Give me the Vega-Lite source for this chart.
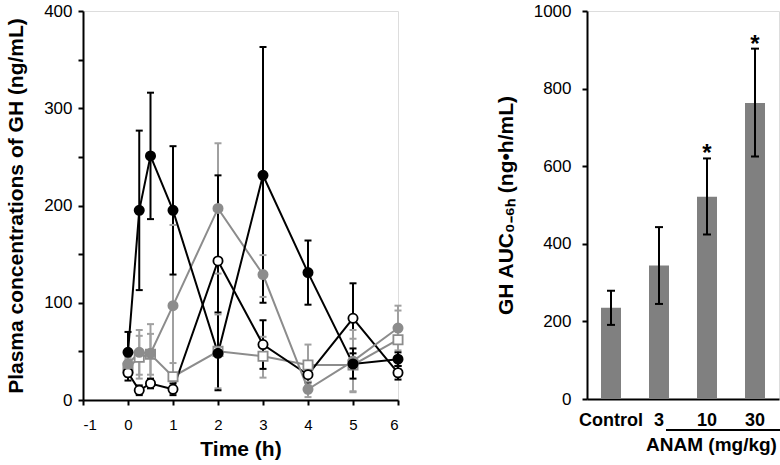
{
  "$schema": "https://vega.github.io/schema/vega-lite/v6.json",
  "padding": {"left": 5, "top": 1, "right": 0, "bottom": 0},
  "bounds": "flush",
  "spacing": 189,
  "hconcat": [
    {
      "width": 315,
      "height": 389,
      "data": {"values": [
        {"group": "Control", "time": 0, "mean": 33, "lo": 24, "hi": 42},
        {"group": "Control", "time": 0.25, "mean": 44, "lo": 22, "hi": 66},
        {"group": "Control", "time": 0.5, "mean": 47, "lo": 26, "hi": 68},
        {"group": "Control", "time": 1, "mean": 24, "lo": 10, "hi": 38},
        {"group": "Control", "time": 2, "mean": 50, "lo": 12, "hi": 88},
        {"group": "Control", "time": 3, "mean": 45, "lo": 23, "hi": 65},
        {"group": "Control", "time": 4, "mean": 36, "lo": 15, "hi": 57},
        {"group": "Control", "time": 5, "mean": 36, "lo": 9, "hi": 63},
        {"group": "Control", "time": 6, "mean": 62, "lo": 32, "hi": 92},
        {"group": "ANAM 3 mg/kg", "time": 0, "mean": 28, "lo": 20, "hi": 36},
        {"group": "ANAM 3 mg/kg", "time": 0.25, "mean": 10, "lo": 5, "hi": 15},
        {"group": "ANAM 3 mg/kg", "time": 0.5, "mean": 17, "lo": 12, "hi": 22},
        {"group": "ANAM 3 mg/kg", "time": 1, "mean": 11, "lo": 5, "hi": 17},
        {"group": "ANAM 3 mg/kg", "time": 2, "mean": 143, "lo": 90, "hi": 196},
        {"group": "ANAM 3 mg/kg", "time": 3, "mean": 57, "lo": 32, "hi": 82},
        {"group": "ANAM 3 mg/kg", "time": 4, "mean": 26, "lo": 18, "hi": 34},
        {"group": "ANAM 3 mg/kg", "time": 5, "mean": 84, "lo": 48, "hi": 120},
        {"group": "ANAM 3 mg/kg", "time": 6, "mean": 28, "lo": 21, "hi": 35},
        {"group": "ANAM 10 mg/kg", "time": 0, "mean": 37, "lo": 30, "hi": 44},
        {"group": "ANAM 10 mg/kg", "time": 0.25, "mean": 49, "lo": 26, "hi": 72},
        {"group": "ANAM 10 mg/kg", "time": 0.5, "mean": 48, "lo": 18, "hi": 78},
        {"group": "ANAM 10 mg/kg", "time": 1, "mean": 97, "lo": 14, "hi": 180},
        {"group": "ANAM 10 mg/kg", "time": 2, "mean": 197, "lo": 130, "hi": 264},
        {"group": "ANAM 10 mg/kg", "time": 3, "mean": 129, "lo": 106, "hi": 149},
        {"group": "ANAM 10 mg/kg", "time": 4, "mean": 11, "lo": 3, "hi": 19},
        {"group": "ANAM 10 mg/kg", "time": 5, "mean": 40, "lo": 8, "hi": 72},
        {"group": "ANAM 10 mg/kg", "time": 6, "mean": 74, "lo": 51, "hi": 97},
        {"group": "ANAM 30 mg/kg", "time": 0, "mean": 49, "lo": 28, "hi": 70},
        {"group": "ANAM 30 mg/kg", "time": 0.25, "mean": 195, "lo": 113, "hi": 277},
        {"group": "ANAM 30 mg/kg", "time": 0.5, "mean": 251, "lo": 186, "hi": 316},
        {"group": "ANAM 30 mg/kg", "time": 1, "mean": 195, "lo": 129, "hi": 261},
        {"group": "ANAM 30 mg/kg", "time": 2, "mean": 48, "lo": 10, "hi": 231},
        {"group": "ANAM 30 mg/kg", "time": 3, "mean": 231, "lo": 100, "hi": 363},
        {"group": "ANAM 30 mg/kg", "time": 4, "mean": 131, "lo": 98, "hi": 164},
        {"group": "ANAM 30 mg/kg", "time": 5, "mean": 37, "lo": 22, "hi": 53},
        {"group": "ANAM 30 mg/kg", "time": 6, "mean": 42, "lo": 35, "hi": 49}
      ]},
      "encoding": {
        "x": {"field": "time", "type": "quantitative", "scale": {"domain": [-1, 6], "nice": false},
              "axis": {"values": [-1, 0, 1, 2, 3, 4, 5, 6], "labelOverlap": false, "labelExpr": "datum.value < 0 ? '-' + abs(datum.value) : datum.label", "title": "Time (h)", "titleFontSize": 21, "titleFont": "Liberation Sans", "titleFontWeight": "bold", "titleColor": "black", "labelFont": "Liberation Sans", "labelColor": "black", "labelFontSize": 15, "tickSize": 5, "labelPadding": 12, "titlePadding": 6, "grid": false, "domainColor": "black", "domainWidth": 2, "tickColor": "black", "tickWidth": 2}}
      },
      "layer": [
        {
          "mark": {"type": "rule", "strokeWidth": 2},
          "encoding": {
            "y": {"field": "lo", "type": "quantitative", "scale": {"domain": [0, 400]},
                  "axis": {"values": [0, 50, 100, 150, 200, 250, 300, 350, 400], "labelOverlap": false, "labelExpr": "datum.value % 100 === 0 ? datum.label : ''", "title": "Plasma concentrations of GH (ng/mL)", "titleFontSize": 21, "titleFont": "Liberation Sans", "titleFontWeight": "bold", "titleColor": "black", "labelFont": "Liberation Sans", "labelColor": "black", "labelFontSize": 17, "tickSize": 5, "labelPadding": 6, "titlePadding": 17, "grid": false, "domainColor": "black", "domainWidth": 2, "tickColor": "black", "tickWidth": 2}},
            "y2": {"field": "hi"},
            "color": {"field": "group", "type": "nominal", "legend": null,
                      "scale": {"domain": ["Control", "ANAM 3 mg/kg", "ANAM 10 mg/kg", "ANAM 30 mg/kg"], "range": ["#a0a0a0", "#000000", "#a0a0a0", "#000000"]}}
          }
        },
        {
          "mark": {"type": "tick", "orient": "horizontal", "size": 7, "thickness": 2, "opacity": 1},
          "encoding": {
            "y": {"field": "lo", "type": "quantitative",
                  "axis": {"values": [0, 50, 100, 150, 200, 250, 300, 350, 400], "labelOverlap": false, "labelExpr": "datum.value % 100 === 0 ? datum.label : ''", "title": "Plasma concentrations of GH (ng/mL)", "titleFontSize": 21, "titleFont": "Liberation Sans", "titleFontWeight": "bold", "titleColor": "black", "labelFont": "Liberation Sans", "labelColor": "black", "labelFontSize": 17, "tickSize": 5, "labelPadding": 6, "titlePadding": 17, "grid": false, "domainColor": "black", "domainWidth": 2, "tickColor": "black", "tickWidth": 2}},
            "color": {"field": "group", "type": "nominal", "legend": null}
          }
        },
        {
          "mark": {"type": "tick", "orient": "horizontal", "size": 7, "thickness": 2, "opacity": 1},
          "encoding": {
            "y": {"field": "hi", "type": "quantitative",
                  "axis": {"values": [0, 50, 100, 150, 200, 250, 300, 350, 400], "labelOverlap": false, "labelExpr": "datum.value % 100 === 0 ? datum.label : ''", "title": "Plasma concentrations of GH (ng/mL)", "titleFontSize": 21, "titleFont": "Liberation Sans", "titleFontWeight": "bold", "titleColor": "black", "labelFont": "Liberation Sans", "labelColor": "black", "labelFontSize": 17, "tickSize": 5, "labelPadding": 6, "titlePadding": 17, "grid": false, "domainColor": "black", "domainWidth": 2, "tickColor": "black", "tickWidth": 2}},
            "color": {"field": "group", "type": "nominal", "legend": null}
          }
        },
        {
          "mark": {"type": "line", "strokeWidth": 2},
          "encoding": {
            "y": {"field": "mean", "type": "quantitative",
                  "axis": {"values": [0, 50, 100, 150, 200, 250, 300, 350, 400], "labelOverlap": false, "labelExpr": "datum.value % 100 === 0 ? datum.label : ''", "title": "Plasma concentrations of GH (ng/mL)", "titleFontSize": 21, "titleFont": "Liberation Sans", "titleFontWeight": "bold", "titleColor": "black", "labelFont": "Liberation Sans", "labelColor": "black", "labelFontSize": 17, "tickSize": 5, "labelPadding": 6, "titlePadding": 17, "grid": false, "domainColor": "black", "domainWidth": 2, "tickColor": "black", "tickWidth": 2}},
            "stroke": {"field": "group", "type": "nominal",
                       "scale": {"domain": ["Control", "ANAM 3 mg/kg", "ANAM 10 mg/kg", "ANAM 30 mg/kg"], "range": ["#8c8c8c", "#000000", "#8c8c8c", "#000000"]},
                       "legend": {"title": null, "orient": "none", "legendX": 218, "legendY": 4, "labelFontSize": 14, "labelFontWeight": "bold", "labelColor": "black", "labelFont": "Liberation Sans", "symbolSize": 324, "symbolStrokeWidth": 2, "labelOffset": 10, "rowPadding": 0,
                                  "encode": {"symbols": {"update": {"shape": {"signal": "datum.value === 'Control' ? 'M-1.5,0H-0.5M-0.5,-0.5H0.5V0.5H-0.5ZM0.5,0H1.5' : 'M-1.5,0H-0.55M0.55,0A0.55,0.55,0,1,1,-0.55,0A0.55,0.55,0,1,1,0.55,0ZM0.55,0H1.5'"}}}}}}
          }
        },
        {
          "mark": {"type": "point", "size": 85, "strokeWidth": 1.8, "opacity": 1, "fillOpacity": 1},
          "encoding": {
            "y": {"field": "mean", "type": "quantitative",
                  "axis": {"values": [0, 50, 100, 150, 200, 250, 300, 350, 400], "labelOverlap": false, "labelExpr": "datum.value % 100 === 0 ? datum.label : ''", "title": "Plasma concentrations of GH (ng/mL)", "titleFontSize": 21, "titleFont": "Liberation Sans", "titleFontWeight": "bold", "titleColor": "black", "labelFont": "Liberation Sans", "labelColor": "black", "labelFontSize": 17, "tickSize": 5, "labelPadding": 6, "titlePadding": 17, "grid": false, "domainColor": "black", "domainWidth": 2, "tickColor": "black", "tickWidth": 2}},
            "stroke": {"field": "group", "type": "nominal",
                       "legend": {"title": null, "orient": "none", "legendX": 218, "legendY": 4, "labelFontSize": 14, "labelFontWeight": "bold", "labelColor": "black", "labelFont": "Liberation Sans", "symbolSize": 324, "symbolStrokeWidth": 2, "labelOffset": 10, "rowPadding": 0,
                                  "encode": {"symbols": {"update": {"shape": {"signal": "datum.value === 'Control' ? 'M-1.5,0H-0.5M-0.5,-0.5H0.5V0.5H-0.5ZM0.5,0H1.5' : 'M-1.5,0H-0.55M0.55,0A0.55,0.55,0,1,1,-0.55,0A0.55,0.55,0,1,1,0.55,0ZM0.55,0H1.5'"}}}}}},
            "fill": {"field": "group", "type": "nominal",
                     "scale": {"domain": ["Control", "ANAM 3 mg/kg", "ANAM 10 mg/kg", "ANAM 30 mg/kg"], "range": ["#ffffff", "#ffffff", "#8c8c8c", "#000000"]},
                     "legend": {"title": null, "orient": "none", "legendX": 218, "legendY": 4, "labelFontSize": 14, "labelFontWeight": "bold", "labelColor": "black", "labelFont": "Liberation Sans", "symbolSize": 324, "symbolStrokeWidth": 2, "labelOffset": 10, "rowPadding": 0,
                                "encode": {"symbols": {"update": {"shape": {"signal": "datum.value === 'Control' ? 'M-1.5,0H-0.5M-0.5,-0.5H0.5V0.5H-0.5ZM0.5,0H1.5' : 'M-1.5,0H-0.55M0.55,0A0.55,0.55,0,1,1,-0.55,0A0.55,0.55,0,1,1,0.55,0ZM0.55,0H1.5'"}}}}}},
            "shape": {"field": "group", "type": "nominal",
                      "scale": {"domain": ["Control", "ANAM 3 mg/kg", "ANAM 10 mg/kg", "ANAM 30 mg/kg"], "range": ["square", "circle", "circle", "circle"]},
                      "legend": {"title": null, "orient": "none", "legendX": 218, "legendY": 4, "labelFontSize": 14, "labelFontWeight": "bold", "labelColor": "black", "labelFont": "Liberation Sans", "symbolSize": 324, "symbolStrokeWidth": 2, "labelOffset": 10, "rowPadding": 0,
                                 "encode": {"symbols": {"update": {"shape": {"signal": "datum.value === 'Control' ? 'M-1.5,0H-0.5M-0.5,-0.5H0.5V0.5H-0.5ZM0.5,0H1.5' : 'M-1.5,0H-0.55M0.55,0A0.55,0.55,0,1,1,-0.55,0A0.55,0.55,0,1,1,0.55,0ZM0.55,0H1.5'"}}}}}}
          }
        }
      ]
    },
    {
      "width": 192,
      "height": 388,
      "data": {"values": [
        {"group": "Control", "auc": 235, "lo": 191, "hi": 279, "sig": ""},
        {"group": "3", "auc": 344, "lo": 245, "hi": 443, "sig": ""},
        {"group": "10", "auc": 521, "lo": 424, "hi": 620, "sig": "*"},
        {"group": "30", "auc": 763, "lo": 625, "hi": 903, "sig": "*"}
      ]},
      "encoding": {
        "x": {"field": "group", "type": "nominal", "sort": null, "scale": {"domain": ["Control", "3", "10", "30"]},
              "axis": {"title": "ANAM (mg/kg)", "titleX": 124, "titleFontSize": 19, "titleFont": "Liberation Sans", "titleFontWeight": "bold", "titleColor": "black", "titlePadding": 6, "labelFont": "Liberation Sans", "labelColor": "black", "labelFontSize": 18, "labelFontWeight": "bold", "labelAngle": 0, "ticks": false, "labelPadding": 12, "grid": false, "domainColor": "black", "domainWidth": 2}}
      },
      "layer": [
        {
          "mark": {"type": "bar", "color": "#808080", "size": 20},
          "encoding": {
            "y": {"field": "auc", "type": "quantitative", "scale": {"domain": [0, 1000]},
                  "axis": {"values": [0, 100, 200, 300, 400, 500, 600, 700, 800, 900, 1000], "labelOverlap": false, "format": "d", "title": "GH AUC₀₋₆ₕ (ng•h/mL)", "titleFontSize": 21, "titleFont": "Liberation Sans", "titleFontWeight": "bold", "titleColor": "black", "labelFont": "Liberation Sans", "labelColor": "black", "labelFontSize": 17, "tickSize": 5, "labelPadding": 11, "titlePadding": 17, "grid": false, "domainColor": "black", "domainWidth": 2, "tickColor": "black", "tickWidth": 2}}
          }
        },
        {
          "mark": {"type": "rule", "strokeWidth": 2, "color": "black"},
          "encoding": {
            "y": {"field": "lo", "type": "quantitative",
                  "axis": {"values": [0, 100, 200, 300, 400, 500, 600, 700, 800, 900, 1000], "labelOverlap": false, "format": "d", "title": "GH AUC₀₋₆ₕ (ng•h/mL)", "titleFontSize": 21, "titleFont": "Liberation Sans", "titleFontWeight": "bold", "titleColor": "black", "labelFont": "Liberation Sans", "labelColor": "black", "labelFontSize": 17, "tickSize": 5, "labelPadding": 11, "titlePadding": 17, "grid": false, "domainColor": "black", "domainWidth": 2, "tickColor": "black", "tickWidth": 2}},
            "y2": {"field": "hi"}
          }
        },
        {
          "mark": {"type": "tick", "orient": "horizontal", "size": 8, "thickness": 2, "color": "black", "opacity": 1},
          "encoding": {"y": {"field": "lo", "type": "quantitative",
                  "axis": {"values": [0, 100, 200, 300, 400, 500, 600, 700, 800, 900, 1000], "labelOverlap": false, "format": "d", "title": "GH AUC₀₋₆ₕ (ng•h/mL)", "titleFontSize": 21, "titleFont": "Liberation Sans", "titleFontWeight": "bold", "titleColor": "black", "labelFont": "Liberation Sans", "labelColor": "black", "labelFontSize": 17, "tickSize": 5, "labelPadding": 11, "titlePadding": 17, "grid": false, "domainColor": "black", "domainWidth": 2, "tickColor": "black", "tickWidth": 2}}}
        },
        {
          "mark": {"type": "tick", "orient": "horizontal", "size": 8, "thickness": 2, "color": "black", "opacity": 1},
          "encoding": {"y": {"field": "hi", "type": "quantitative",
                  "axis": {"values": [0, 100, 200, 300, 400, 500, 600, 700, 800, 900, 1000], "labelOverlap": false, "format": "d", "title": "GH AUC₀₋₆ₕ (ng•h/mL)", "titleFontSize": 21, "titleFont": "Liberation Sans", "titleFontWeight": "bold", "titleColor": "black", "labelFont": "Liberation Sans", "labelColor": "black", "labelFontSize": 17, "tickSize": 5, "labelPadding": 11, "titlePadding": 17, "grid": false, "domainColor": "black", "domainWidth": 2, "tickColor": "black", "tickWidth": 2}}}
        },
        {
          "mark": {"type": "text", "fontSize": 24, "fontWeight": "bold", "font": "Liberation Sans", "baseline": "bottom", "dy": 8, "color": "black"},
          "encoding": {
            "y": {"field": "hi", "type": "quantitative",
                  "axis": {"values": [0, 100, 200, 300, 400, 500, 600, 700, 800, 900, 1000], "labelOverlap": false, "format": "d", "title": "GH AUC₀₋₆ₕ (ng•h/mL)", "titleFontSize": 21, "titleFont": "Liberation Sans", "titleFontWeight": "bold", "titleColor": "black", "labelFont": "Liberation Sans", "labelColor": "black", "labelFontSize": 17, "tickSize": 5, "labelPadding": 11, "titlePadding": 17, "grid": false, "domainColor": "black", "domainWidth": 2, "tickColor": "black", "tickWidth": 2}},
            "text": {"field": "sig"}
          }
        },
        {
          "mark": {"type": "rule", "strokeWidth": 2, "color": "black", "xOffset": 7, "x2Offset": 40},
          "encoding": {
            "x": {"datum": "3"},
            "x2": {"datum": "30"},
            "y": {"datum": -80}
          }
        }
      ]
    }
  ]
}
